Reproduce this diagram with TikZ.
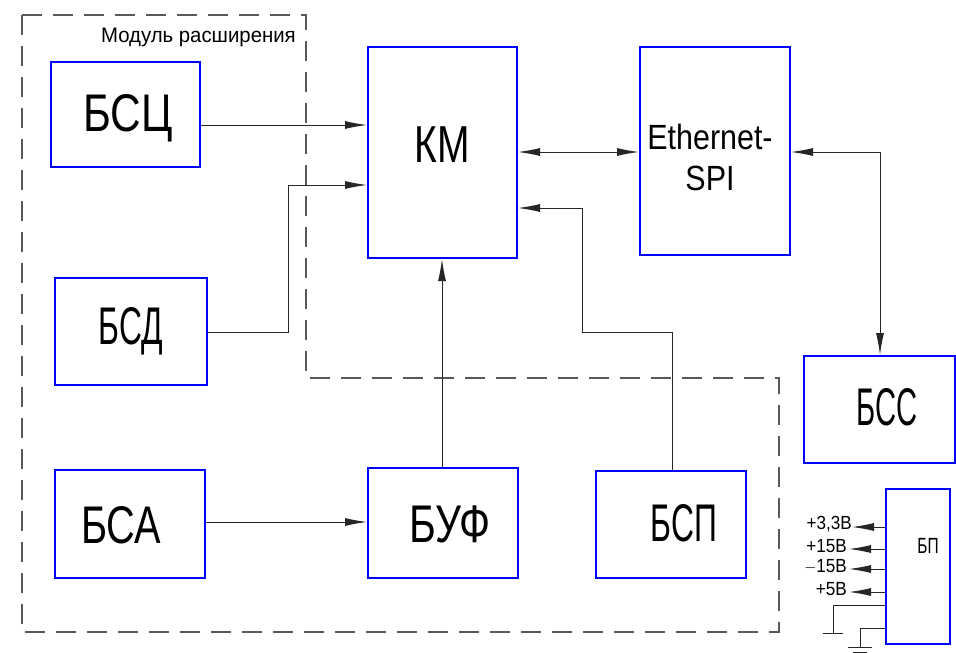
\documentclass[tikz,border=0pt]{standalone}
\usepackage{fontspec}
\setmainfont{Liberation Sans}
\usetikzlibrary{arrows.meta,calc}

% narrow drafting-style lettering
\newcommand{\gost}[3]{{\fontsize{#1}{#1}\selectfont\scalebox{#2}[1]{#3}}}

\begin{document}
\begin{tikzpicture}[x=1pt,y=-1pt,
  blk/.style={draw=blue,line width=2pt,fill=none,inner sep=0pt},
  wire/.style={draw=black!85,line width=1pt},
  tip/.tip={Latex[length=22pt,width=8pt]},
  arr/.style={wire,-tip},
  darr/.style={wire,tip-tip},
  border/.style={draw=black!65,line width=1.5pt,dash pattern=on 20pt off 11pt},
  lbl/.style={inner sep=0pt}
]
\useasboundingbox (0,0) rectangle (956,653);

% expansion module boundary
\draw[border] (22,15) -- (306,15) -- (306,378) -- (779,378) -- (779,632) -- (22,632) -- cycle;
\node[lbl,anchor=base east] (mod) at (296,42) {\gost{21}{0.97}{Модуль расширения}};

% functional blocks
\node[blk,minimum width=149pt,minimum height=105pt] (bsc) at (125.5,114.5) {};
\node[blk,minimum width=152pt,minimum height=107pt] (bsd) at (131,331.5) {};
\node[blk,minimum width=150pt,minimum height=108pt] (bsa) at (130,524) {};
\node[blk,minimum width=149pt,minimum height=211pt] (km) at (442.5,152.5) {};
\node[blk,minimum width=150pt,minimum height=208pt] (eth) at (715,151) {};
\node[blk,minimum width=151pt,minimum height=107pt] (bss) at (879.5,409.5) {};
\node[blk,minimum width=150pt,minimum height=110pt] (buf) at (443,523) {};
\node[blk,minimum width=150pt,minimum height=107pt] (bsp) at (671,524.5) {};
\node[blk,minimum width=64pt,minimum height=155pt] (bp) at (918,566.5) {};

% block captions
\node[lbl] (tbsc) at (128,118) {\gost{53}{0.8}{БСЦ}};
\node[lbl] (tbsd) at (131,331) {\gost{53}{0.6}{БСД}};
\node[lbl] (tbsa) at (121,525) {\gost{53}{0.75}{БСА}};
\node[lbl] (tkm) at (442,145) {\gost{52}{0.75}{КМ}};
\node[lbl,align=center,font=\fontsize{35}{41}\selectfont] (teth) at (710,157) {\scalebox{0.87}[1]{Ethernet-}\\\scalebox{0.87}[1]{SPI}};
\node[lbl] (tbss) at (887,407) {\gost{53}{0.55}{БСС}};
\node[lbl] (tbuf) at (450,524) {\gost{53}{0.77}{БУФ}};
\node[lbl] (tbsp) at (684,523) {\gost{53}{0.6}{БСП}};
\node[lbl] (tbp) at (928,546) {\gost{22}{0.7}{БП}};

% helper levels
\coordinate (y125) at (0,125);
\coordinate (y185) at (0,185);
\coordinate (y152) at (0,152);
\coordinate (y208) at (0,208);
\coordinate (y332) at (0,332);
\coordinate (y522) at (0,522);
\coordinate (x288) at (288,0);
\coordinate (x582) at (582,0);
\coordinate (x672) at (672,0);
\coordinate (x880) at (880,0);
\coordinate (x442) at (442,0);

% signal connections
\draw[arr] (bsc.east |- y125) -- (km.west |- y125);
\draw[arr] (bsd.east |- y332) -| (x288 |- y185) -- (km.west |- y185);
\draw[darr] (km.east |- y152) -- (eth.west |- y152);
\draw[darr] (eth.east |- y152) -| (x880 |- bss.north);
\draw[arr] (bsa.east |- y522) -- (buf.west |- y522);
\draw[arr] (x442 |- buf.north) -- (x442 |- km.south);
\draw[arr] (x672 |- bsp.north) -- (x672 |- y332) -- (x582 |- y332) -- (x582 |- y208) -- (km.east |- y208);

% power supply outputs
\node[lbl,anchor=east] (v33) at (852,524) {\gost{19}{0.9}{+3,3В}};
\node[lbl,anchor=east] (v15) at (847,546) {\gost{19}{0.9}{+15В}};
\node[lbl,anchor=east] (vm15) at (847,567) {\gost{19}{0.9}{$-$15В}};
\node[lbl,anchor=east] (v5) at (847,589) {\gost{19}{0.9}{+5В}};
\coordinate (y527) at (0,527);
\coordinate (y549) at (0,549);
\coordinate (y569) at (0,569);
\coordinate (y592) at (0,592);
\draw[arr] (bp.west |- y527) -- (v33.east |- y527);
\draw[arr] (bp.west |- y549) -- ($(v15.east |- y549)+(2,0)$);
\draw[arr] (bp.west |- y569) -- ($(vm15.east |- y569)+(2,0)$);
\draw[arr] (bp.west |- y592) -- ($(v5.east |- y592)+(2,0)$);

% grounds
\coordinate (g1) at (833,633);
\coordinate (g2) at (860,647);
\draw[wire] (bp.west |- 0,605) -| (g1);
\draw[wire] ($(g1)+(-10,0)$) -- ($(g1)+(10,0)$);
\draw[wire] (bp.west |- 0,628) -| (g2);
\draw[wire] ($(g2)+(-12,0)$) -- ($(g2)+(12,0)$);
\draw[wire] ($(g2)+(-7,5)$) -- ($(g2)+(7,5)$);
\end{tikzpicture}
\end{document}
